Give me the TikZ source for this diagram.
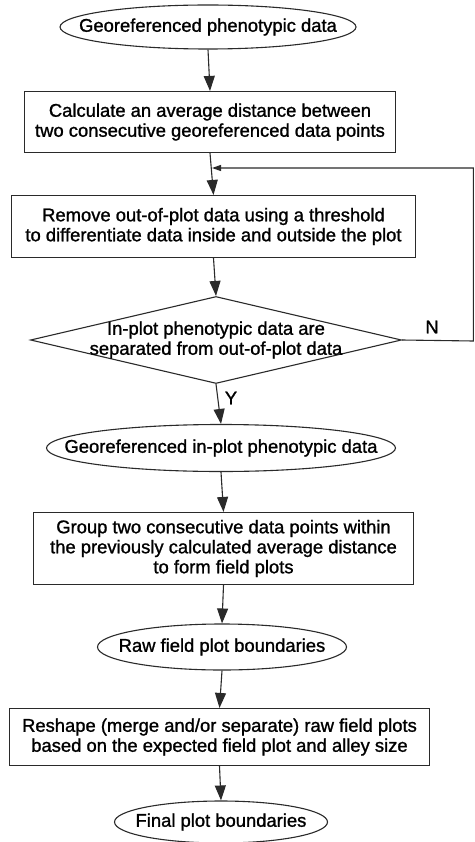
\documentclass[tikz,border=0pt]{standalone}
\usepackage{fontspec}
\setmainfont{Liberation Sans}
\newfontfamily\diagfont{Liberation Sans}[RawFeature={embolden=1.2}]
\usetikzlibrary{shapes.geometric,arrows.meta}
\definecolor{linec}{HTML}{2A2A2A}
\begin{document}
\begin{tikzpicture}[x=1pt,y=-1pt,
  every node/.style={font=\diagfont\fontsize{18.4}{20}\selectfont},
  stepbox/.style={draw=linec,rectangle,align=center,inner sep=0pt,line width=1.1pt},
  termin/.style={draw=linec,ellipse,inner sep=0pt,line width=1.1pt},
  decis/.style={draw=linec,diamond,inner sep=0pt,line width=1.1pt},
  flow/.style={draw=linec,line width=1.1pt,-{Triangle[length=15pt,width=11pt]}},
  smallflow/.style={draw=linec,line width=1.1pt,-{Triangle[length=9pt,width=6pt]}}]
\useasboundingbox (0,0) rectangle (474,842);
\fill[white] (0,0) rectangle (474,842);

\node[termin,minimum width=296pt,minimum height=44pt,label={center:Georeferenced phenotypic data}] (e1) at (208,27) {};
\node[stepbox,minimum width=371pt,minimum height=61pt] (b2) at (210,122) {Calculate an average distance between\\two consecutive georeferenced data points};
\node[stepbox,minimum width=404pt,minimum height=62pt] (b3) at (213.5,226.5) {Remove out-of-plot data using a threshold\\to differentiate data inside and outside the plot};
\node[decis,minimum width=371pt,minimum height=87pt,label={[align=center]center:In-plot phenotypic data are\\separated from out-of-plot data}] (d) at (216,340) {};
\node[termin,minimum width=349pt,minimum height=47pt,label={center:Georeferenced in-plot phenotypic data}] (e2) at (221,448) {};
\node[stepbox,minimum width=380pt,minimum height=72pt] (b4) at (223.5,548.5) {Group two consecutive data points within\\the previously calculated average distance\\to form field plots};
\node[termin,minimum width=249pt,minimum height=46pt,label={center:Raw field plot boundaries}] (e3) at (222,647) {};
\node[stepbox,minimum width=420pt,minimum height=57pt] (b5) at (219.5,737) {Reshape (merge and/or separate) raw field plots\\based on the expected field plot and alley size};
\node[termin,minimum width=213pt,minimum height=42pt,label={center:Final plot boundaries}] (e4) at (221,822) {};

\node (ylab) at (231,398) {Y};
\node (nlab) at (432,327) {N};

\coordinate (rb) at (473.4,341);
\coordinate (rt) at (473.4,168);
\coordinate (j) at (212,168);

\draw[flow] (e1.south) -- (b2.north);
\draw[flow] (b2.south) -- (b3.north);
\draw[flow] (b3.south) -- (d.north);
\draw[flow] (d.south) -- (e2.north);
\draw[flow] (e2.south) -- (b4.north);
\draw[flow] (b4.south) -- (e3.north);
\draw[flow] (e3.south) -- (b5.north);
\draw[flow] (b5.south) -- (e4.north);
\draw[smallflow] (d.east) -- (rb) -- (rt) -- (j);
\end{tikzpicture}
\end{document}
